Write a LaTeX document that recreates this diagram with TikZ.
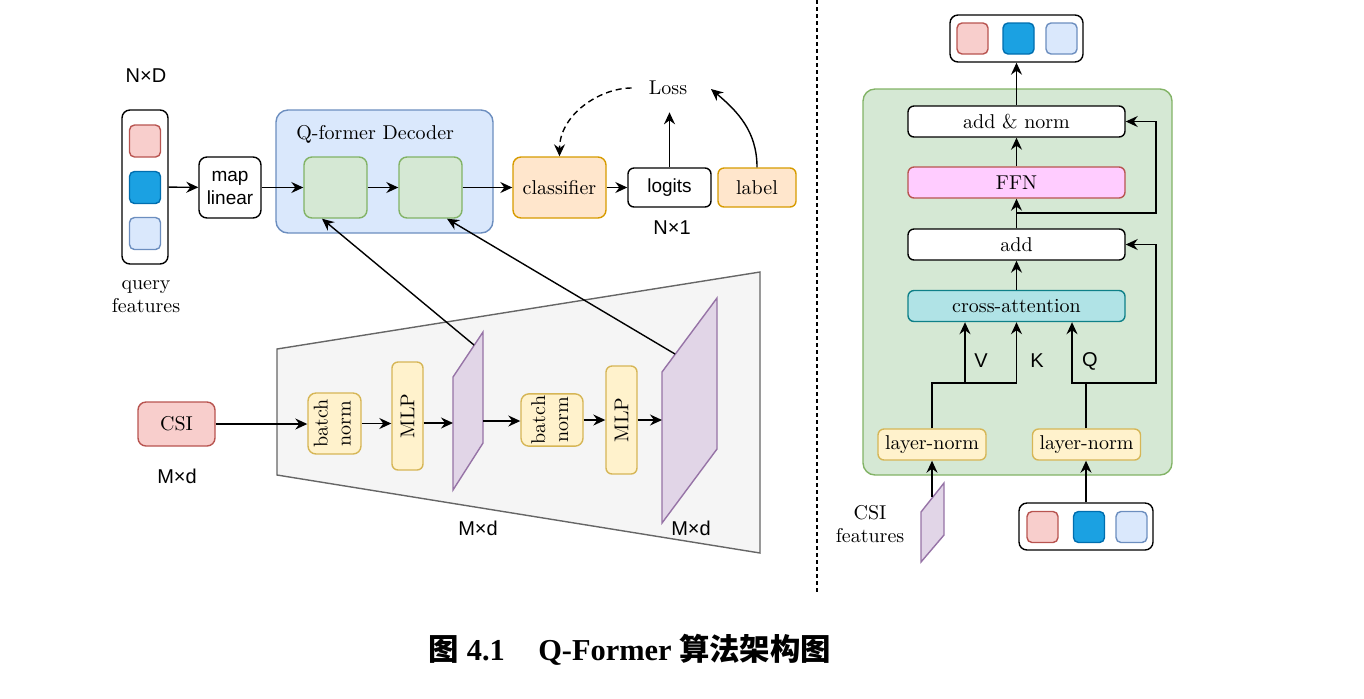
\documentclass[tikz,border=0pt]{standalone}
\usepackage{graphicx}
\usepackage{fontspec}
\setsansfont{Liberation Sans}
\newfontfamily\capfont{Liberation Serif}
\newfontfamily\cjkfont{Noto Sans CJK SC Bold}
\usetikzlibrary{arrows.meta}
\definecolor{qredf}{HTML}{F8CECC}\definecolor{qredd}{HTML}{B85450}
\definecolor{qbluf}{HTML}{1BA1E2}\definecolor{qblud}{HTML}{006EAF}
\definecolor{qlitf}{HTML}{DAE8FC}\definecolor{qlitd}{HTML}{6C8EBF}
\definecolor{grnf}{HTML}{D5E8D4}\definecolor{grnd}{HTML}{82B366}
\definecolor{orgf}{HTML}{FFE6CC}\definecolor{orgd}{HTML}{D79B00}
\definecolor{ylwf}{HTML}{FFF2CC}\definecolor{ylwd}{HTML}{D6B656}
\definecolor{purf}{HTML}{E1D5E7}\definecolor{purd}{HTML}{9673A6}
\definecolor{gryf}{HTML}{F5F5F5}\definecolor{gryd}{HTML}{666666}
\definecolor{pnkf}{HTML}{FFCCFF}
\definecolor{cyaf}{HTML}{B0E3E6}\definecolor{cyad}{HTML}{0E8088}
\newcommand{\zh}[1]{{\cjkfont #1}}
\newcommand{\twol}[2]{\begin{tabular}{@{}c@{}}#1\\#2\end{tabular}}

\begin{document}
\begin{tikzpicture}[x=0.5pt,y=-0.5pt,line width=0.7pt,
  >={Stealth[length=6pt,width=5.5pt,inset=2pt]},
  font=\fontsize{10}{11.5}\selectfont]
\tikzstyle{blk}=[draw,rounded corners=3pt,inner sep=1pt,align=center]
\tikzstyle{sq}=[blk,minimum width=15.5pt,minimum height=16pt,rounded corners=2.5pt]
\tikzstyle{dim}=[font=\sffamily\fontsize{10}{11}\selectfont]
\tikzstyle{sans}=[font=\sffamily\fontsize{9.5}{11.5}\selectfont]
\tikzstyle{widebox}=[blk,minimum width=108.5pt,minimum height=15.5pt]
\tikzstyle{lnbox}=[blk,fill=ylwf,draw=ylwd,minimum width=54pt,minimum height=15.5pt]
\useasboundingbox (0,0) rectangle (1364,698);

% query features
\node[dim] (nd) at (146,76) {N×D};
\node[blk,rounded corners=4pt,minimum width=23pt,minimum height=77pt] (qry) at (145,187) {};
\node[sq,fill=qredf,draw=qredd] (q1) at (145,141) {};
\node[sq,fill=qbluf,draw=qblud] (q2) at (145,187.5) {};
\node[sq,fill=qlitf,draw=qlitd] (q3) at (145,233.5) {};
\node[align=center] (qtxt) at (146,297) {query\\features};
\node[blk,sans,rounded corners=4pt,minimum width=31pt,minimum height=30.5pt] (map) at (230,187.5) {map\\linear};

% decoder
\node[blk,rounded corners=6pt,fill=qlitf,draw=qlitd,minimum width=108.5pt,minimum height=61.5pt] (dec) at (384.5,171.5) {};
\node[anchor=west] (dect) at (289,134) {Q-former Decoder};
\node[blk,rounded corners=4pt,fill=grnf,draw=grnd,minimum width=31.5pt,minimum height=30.5pt] (g1) at (335.5,187.5) {};
\node[blk,rounded corners=4pt,fill=grnf,draw=grnd,minimum width=31.5pt,minimum height=30.5pt] (g2) at (430.5,187.5) {};
\node[blk,rounded corners=4pt,fill=orgf,draw=orgd,minimum width=46.5pt,minimum height=30.5pt] (cls) at (559.5,187.5) {classifier};
\node[blk,sans,minimum width=41.5pt,minimum height=19.5pt] (lgt) at (669.5,187.5) {logits};
\node[blk,fill=orgf,draw=orgd,minimum width=39pt,minimum height=19.5pt] (lab) at (757,187.5) {label};
\node[dim] (n1) at (672,228) {N×1};
\node (loss) at (668,88) {Loss};
\coordinate (lossin) at (711,89);

\draw[->] (qry) -- (map);
\draw[->] (map) -- (g1);
\draw[->] (g1) -- (g2);
\draw[->] (g2) -- (cls);
\draw[->] (cls) -- (lgt);
\draw[->,shorten >=5pt] (lgt.north) -- (lgt.north |- loss.south);
\draw[->] (lab.north) to[out=90,in=-40] (lossin);
\draw[->,dash pattern=on 3pt off 2pt,shorten <=5pt] (loss.west) to[out=180,in=90] (cls.north);

% CSI encoder
\draw[draw=gryd,fill=gryf] (277,349) -- (760,272) -- (760,553) -- (277,475) -- cycle;
\node[blk,rounded corners=4pt,fill=qredf,draw=qredd,minimum width=38.5pt,minimum height=22pt] (csi) at (176.5,424) {CSI};
\node[dim] (md1) at (177,476) {M×d};
\node[blk,rounded corners=4pt,fill=ylwf,draw=ylwd,minimum width=26.5pt,minimum height=30.5pt] (bn1) at (334.5,423.5) {\rotatebox{90}{\twol{batch}{norm}}};
\node[blk,fill=ylwf,draw=ylwd,minimum width=15.5pt,minimum height=54pt] (mlp1) at (407.5,416) {\rotatebox{90}{MLP}};
\draw[draw=purd,fill=purf] (453,377) -- (483,332) -- (483,443) -- (453,490) -- cycle;
\coordinate (p1l) at (453,423);
\coordinate (p1r) at (483,421);
\coordinate (p1t) at (474,345);
\node[blk,rounded corners=4pt,fill=ylwf,draw=ylwd,minimum width=31pt,minimum height=23pt] (bn2) at (552,420) {\rotatebox{90}{\twol{batch}{norm}}};
\node[blk,fill=ylwf,draw=ylwd,minimum width=15.5pt,minimum height=54pt] (mlp2) at (621.5,420) {\rotatebox{90}{MLP}};
\draw[draw=purd,fill=purf] (662,372) -- (717,298) -- (717,449) -- (662,523) -- cycle;
\coordinate (p2l) at (662,420);
\coordinate (p2t) at (675,354);
\node[dim] (md2) at (478,528) {M×d};
\node[dim] (md3) at (691,528) {M×d};

\draw[->] (csi) -- (csi -| bn1.west);
\draw[->] (bn1) -- (bn1 -| mlp1.west);
\draw[->] (mlp1.east |- p1l) -- (p1l);
\draw[->] (p1r) -- (p1r -| bn2.west);
\draw[->] (bn2) -- (bn2 -| mlp2.west);
\draw[->] (mlp2.east |- p2l) -- (p2l);
\draw[->] (p1t) -- ([xshift=-6.75pt]g1.south);
\draw[->] (p2t) -- ([xshift=8.25pt]g2.south);

% separator
\draw[dash pattern=on 2pt off 1.5pt] (817,0) -- (817,592);

% cross-attention block
\node[blk,rounded corners=4pt,minimum width=66.5pt,minimum height=23.5pt] (outbox) at (1016.5,38.5) {};
\node[sq,fill=qredf,draw=qredd,minimum height=15.5pt] (o1) at (972.5,38.5) {};
\node[sq,fill=qbluf,draw=qblud,minimum height=15.5pt] (o2) at (1018.5,38.5) {};
\node[sq,fill=qlitf,draw=qlitd,minimum height=15.5pt] (o3) at (1061.5,38.5) {};
\node[blk,rounded corners=6pt,fill=grnf,draw=grnd,minimum width=154.5pt,minimum height=193pt] (enc) at (1017.5,282) {};
\node[widebox,fill=white] (addnorm) at (1016.5,121.5) {add \& norm};
\node[widebox,fill=pnkf,draw=qredd] (ffn) at (1016.5,182.5) {FFN};
\node[widebox,fill=white] (add) at (1016.5,244.5) {add};
\node[widebox,fill=cyaf,draw=cyad] (xatt) at (1016.5,306) {cross-attention};
\node[lnbox] (ln1) at (932,444.5) {layer-norm};
\node[lnbox] (ln2) at (1086.5,444.5) {layer-norm};
\draw[draw=purd,fill=purf] (921,512) -- (944,483) -- (944,535) -- (921,562) -- cycle;
\coordinate (csit) at (932,497);
\node[align=center] (csitxt) at (870,524) {CSI\\features};
\node[blk,rounded corners=4pt,minimum width=67pt,minimum height=23.5pt] (inbox) at (1086,526.5) {};
\node[sq,fill=qredf,draw=qredd,minimum height=15.5pt] (i1) at (1042.5,527) {};
\node[sq,fill=qbluf,draw=qblud,minimum height=15.5pt] (i2) at (1089,527) {};
\node[sq,fill=qlitf,draw=qlitd,minimum height=15.5pt] (i3) at (1131.5,527) {};
\node[dim] (vv) at (981,361) {V};
\node[dim] (kk) at (1037,361) {K};
\node[dim] (qq) at (1090,361) {Q};
\coordinate (j1) at (1016.5,213);
\coordinate (r1) at (1156,121.5);
\coordinate (qj) at (1086,383);
\coordinate (r2) at (1156,244.5);
\coordinate (vk) at (932,383);

\draw[->] (addnorm) -- (outbox);
\draw[->] (ffn) -- (addnorm);
\draw[->] (add) -- (ffn);
\draw[->] (xatt) -- (add);
\draw[->] (j1) -| (r1) -- (addnorm.east);
\draw[->] (ln2.north -| qj) -- (qj) -| ([xshift=27.75pt]xatt.south);
\draw[->] (qj) -| (r2) -- (add.east);
\draw[->] (ln1) -- (vk) -| ([xshift=-25.75pt]xatt.south);
\draw[->] (vk) -| (xatt.south);
\draw[->] (csit) -- (ln1);
\draw[->] (inbox.north -| qj) -- (ln2.south -| qj);

% caption
\node (cap) at (630,650) {\fontsize{15.2}{17}\selectfont\capfont\bfseries \zh{图} 4.1\hspace{1.1em}Q-Former \zh{算法架构图}};
\end{tikzpicture}
\end{document}
